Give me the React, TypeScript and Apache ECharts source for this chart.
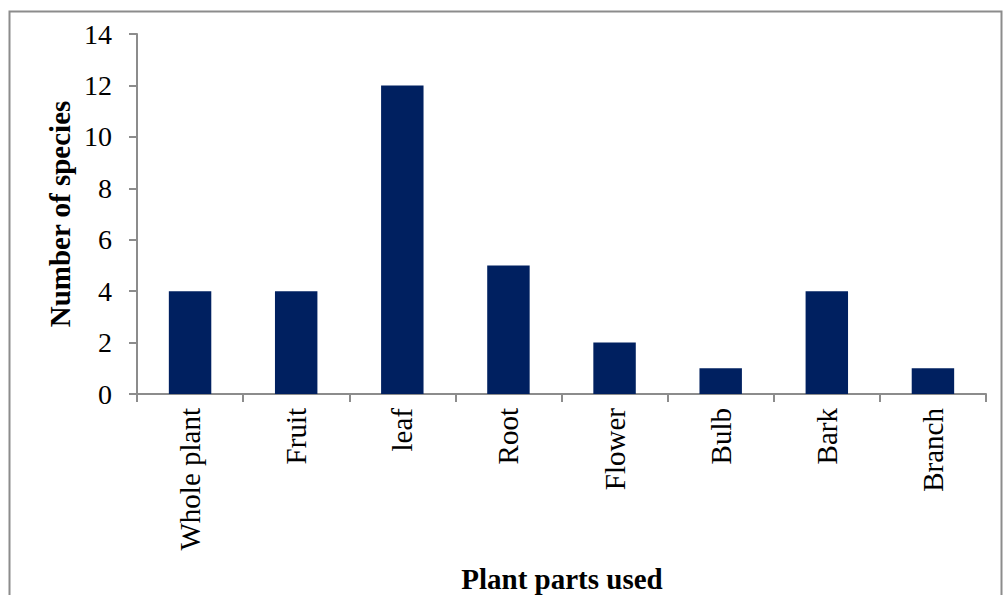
import React, { useEffect, useRef } from "react";
import * as echarts from "echarts";

const categories = ["Whole plant", "Fruit", "leaf", "Root", "Flower", "Bulb", "Bark", "Branch"];
const speciesCounts = [4, 4, 12, 5, 2, 1, 4, 1];
const yTicks = { min: 0, max: 14, interval: 2 };

const FONT = "'Liberation Serif', 'Times New Roman', serif";
const AXIS_COLOR = "#8c8c8c";

export default function App() {
  const ref = useRef<HTMLDivElement>(null);
  useEffect(() => {
    if (!ref.current) return;
    const chart = echarts.init(ref.current, undefined, { renderer: "svg" });
    chart.setOption({
      animation: false,
      backgroundColor: "#ffffff",
      grid: { left: 137, top: 34, right: 17, bottom: 201, containLabel: false },
      graphic: [
        {
          type: "rect",
          shape: { x: 9.5, y: 11.5, width: 992, height: 600 },
          style: { fill: "none", stroke: "#8c8c8c", lineWidth: 2 },
          silent: true,
        },
        {
          type: "text",
          x: 60,
          y: 214,
          rotation: Math.PI / 2,
          style: {
            text: "Number of species",
            font: `bold 29px ${FONT}`,
            fill: "#000",
            align: "center",
            verticalAlign: "middle",
          },
        },
        {
          type: "text",
          x: 562,
          y: 579,
          style: {
            text: "Plant parts used",
            font: `bold 29px ${FONT}`,
            fill: "#000",
            align: "center",
            verticalAlign: "middle",
          },
        },
      ],
      xAxis: {
        type: "category",
        data: categories,
        axisLine: { lineStyle: { color: AXIS_COLOR, width: 2 } },
        axisTick: { show: true, length: 8, alignWithLabel: false, lineStyle: { color: AXIS_COLOR, width: 2 } },
        axisLabel: {
          rotate: 90,
          margin: 14,
          fontFamily: FONT,
          fontSize: 29,
          color: "#000",
          interval: 0,
        },
      },
      yAxis: {
        type: "value",
        min: yTicks.min,
        max: yTicks.max,
        interval: yTicks.interval,
        splitLine: { show: false },
        axisLine: { show: true, lineStyle: { color: AXIS_COLOR, width: 2 } },
        axisTick: { show: true, length: 8, lineStyle: { color: AXIS_COLOR, width: 2 } },
        axisLabel: { margin: 25, fontFamily: FONT, fontSize: 28, color: "#000" },
      },
      series: [
        {
          type: "bar",
          data: speciesCounts,
          barWidth: "40%",
          itemStyle: { color: "#002060" },
        },
      ],
    });
    return () => chart.dispose();
  }, []);
  return (
    <div
      ref={ref}
      style={{ position: "fixed", left: 0, top: 0, width: 1003, height: 595, background: "#fff" }}
    />
  );
}
